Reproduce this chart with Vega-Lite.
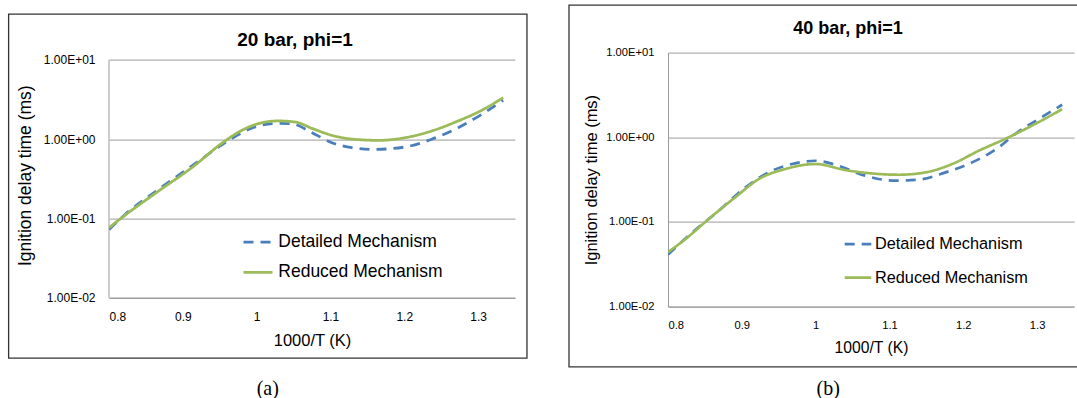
{
  "$schema": "https://vega.github.io/schema/vega-lite/v6.json",
  "background": "white",
  "padding": {"left": 7, "top": 3.6, "right": 0, "bottom": 0},
  "spacing": 40,
  "resolve": {"scale": {"color": "independent", "strokeDash": "independent"}, "legend": {"color": "independent", "strokeDash": "independent"}},
  "config": {
    "view": {"stroke": null},
    "font": "Liberation Sans",
    "axis": {"labelFont": "Liberation Sans", "titleFont": "Liberation Sans", "labelColor": "#000000", "titleColor": "#000000", "titleFontWeight": "normal", "ticks": false, "tickSize": 0},
    "legend": {"labelFont": "Liberation Sans", "labelColor": "#000000", "labelLimit": 400}
  },
  "datasets": {
    "a": [
      {"t": 0.8, "tau": 0.0728, "series": "Detailed Mechanism"},
      {"t": 0.822, "tau": 0.113, "series": "Detailed Mechanism"},
      {"t": 0.867, "tau": 0.233, "series": "Detailed Mechanism"},
      {"t": 0.912, "tau": 0.458, "series": "Detailed Mechanism"},
      {"t": 0.957, "tau": 0.904, "series": "Detailed Mechanism"},
      {"t": 0.98, "tau": 1.21, "series": "Detailed Mechanism"},
      {"t": 1.002, "tau": 1.47, "series": "Detailed Mechanism"},
      {"t": 1.029, "tau": 1.585, "series": "Detailed Mechanism"},
      {"t": 1.047, "tau": 1.57, "series": "Detailed Mechanism"},
      {"t": 1.075, "tau": 1.21, "series": "Detailed Mechanism"},
      {"t": 1.102, "tau": 0.904, "series": "Detailed Mechanism"},
      {"t": 1.129, "tau": 0.782, "series": "Detailed Mechanism"},
      {"t": 1.16, "tau": 0.745, "series": "Detailed Mechanism"},
      {"t": 1.201, "tau": 0.798, "series": "Detailed Mechanism"},
      {"t": 1.237, "tau": 0.998, "series": "Detailed Mechanism"},
      {"t": 1.273, "tau": 1.4, "series": "Detailed Mechanism"},
      {"t": 1.305, "tau": 2.06, "series": "Detailed Mechanism"},
      {"t": 1.334, "tau": 3.1, "series": "Detailed Mechanism"},
      {"t": 0.8, "tau": 0.0764, "series": "Reduced Mechanism"},
      {"t": 0.817, "tau": 0.102, "series": "Reduced Mechanism"},
      {"t": 0.867, "tau": 0.222, "series": "Reduced Mechanism"},
      {"t": 0.912, "tau": 0.437, "series": "Reduced Mechanism"},
      {"t": 0.957, "tau": 0.948, "series": "Reduced Mechanism"},
      {"t": 0.98, "tau": 1.294, "series": "Reduced Mechanism"},
      {"t": 1.002, "tau": 1.57, "series": "Reduced Mechanism"},
      {"t": 1.029, "tau": 1.7, "series": "Reduced Mechanism"},
      {"t": 1.052, "tau": 1.65, "series": "Reduced Mechanism"},
      {"t": 1.075, "tau": 1.37, "series": "Reduced Mechanism"},
      {"t": 1.102, "tau": 1.12, "series": "Reduced Mechanism"},
      {"t": 1.129, "tau": 1.005, "series": "Reduced Mechanism"},
      {"t": 1.165, "tau": 0.968, "series": "Reduced Mechanism"},
      {"t": 1.201, "tau": 1.045, "series": "Reduced Mechanism"},
      {"t": 1.237, "tau": 1.27, "series": "Reduced Mechanism"},
      {"t": 1.273, "tau": 1.7, "series": "Reduced Mechanism"},
      {"t": 1.305, "tau": 2.32, "series": "Reduced Mechanism"},
      {"t": 1.334, "tau": 3.34, "series": "Reduced Mechanism"}
    ],
    "b": [
      {"t": 0.8, "tau": 0.0411, "series": "Detailed Mechanism"},
      {"t": 0.833, "tau": 0.0753, "series": "Detailed Mechanism"},
      {"t": 0.869, "tau": 0.136, "series": "Detailed Mechanism"},
      {"t": 0.905, "tau": 0.256, "series": "Detailed Mechanism"},
      {"t": 0.941, "tau": 0.403, "series": "Detailed Mechanism"},
      {"t": 0.968, "tau": 0.483, "series": "Detailed Mechanism"},
      {"t": 1.0, "tau": 0.528, "series": "Detailed Mechanism"},
      {"t": 1.031, "tau": 0.461, "series": "Detailed Mechanism"},
      {"t": 1.067, "tau": 0.352, "series": "Detailed Mechanism"},
      {"t": 1.108, "tau": 0.307, "series": "Detailed Mechanism"},
      {"t": 1.14, "tau": 0.316, "series": "Detailed Mechanism"},
      {"t": 1.176, "tau": 0.385, "series": "Detailed Mechanism"},
      {"t": 1.212, "tau": 0.505, "series": "Detailed Mechanism"},
      {"t": 1.248, "tau": 0.759, "series": "Detailed Mechanism"},
      {"t": 1.27, "tau": 1.09, "series": "Detailed Mechanism"},
      {"t": 1.302, "tau": 1.64, "series": "Detailed Mechanism"},
      {"t": 1.334, "tau": 2.42, "series": "Detailed Mechanism"},
      {"t": 0.8, "tau": 0.0439, "series": "Reduced Mechanism"},
      {"t": 0.824, "tau": 0.0631, "series": "Reduced Mechanism"},
      {"t": 0.855, "tau": 0.108, "series": "Reduced Mechanism"},
      {"t": 0.891, "tau": 0.195, "series": "Reduced Mechanism"},
      {"t": 0.923, "tau": 0.321, "series": "Reduced Mechanism"},
      {"t": 0.959, "tau": 0.422, "series": "Reduced Mechanism"},
      {"t": 1.0, "tau": 0.483, "series": "Reduced Mechanism"},
      {"t": 1.04, "tau": 0.41, "series": "Reduced Mechanism"},
      {"t": 1.076, "tau": 0.374, "series": "Reduced Mechanism"},
      {"t": 1.113, "tau": 0.361, "series": "Reduced Mechanism"},
      {"t": 1.149, "tau": 0.385, "series": "Reduced Mechanism"},
      {"t": 1.185, "tau": 0.483, "series": "Reduced Mechanism"},
      {"t": 1.221, "tau": 0.693, "series": "Reduced Mechanism"},
      {"t": 1.261, "tau": 0.995, "series": "Reduced Mechanism"},
      {"t": 1.297, "tau": 1.43, "series": "Reduced Mechanism"},
      {"t": 1.334, "tau": 2.15, "series": "Reduced Mechanism"}
    ]
  },
  "hconcat": [
    {
      "title": {"text": "(a)", "orient": "bottom", "anchor": "middle", "frame": "bounds", "font": "Liberation Serif", "fontSize": 20, "fontWeight": "normal", "color": "#000000", "baseline": "alphabetic", "offset": 36},
      "vconcat": [
        {
          "width": 406,
          "height": 245.3,
          "title": {"text": "20 bar, phi=1", "anchor": "middle", "frame": "group", "dx": -17, "font": "Liberation Sans", "fontSize": 19, "fontWeight": "bold", "color": "#000000", "baseline": "alphabetic", "offset": -51.5},
          "layer": [
            {
              "data": {"values": [{}]},
              "mark": {"type": "rect", "fill": "transparent", "stroke": "#333333", "strokeWidth": 1.3, "clip": false},
              "encoding": {
                "x": {"datum": 0.664, "type": "quantitative", "scale": {"domain": [0.8, 1.35], "nice": false, "zero": false}},
                "x2": {"datum": 1.3662},
                "y": {"datum": 37.67, "type": "quantitative", "scale": {"type": "log", "domain": [0.01, 12.36], "nice": false}},
                "y2": {"datum": 0.001738}
              }
            },
            {
              "data": {"values": [{}]},
              "mark": {"type": "rule", "color": "#9a9a9a", "strokeWidth": 1},
              "encoding": {
                "x": {"datum": 0.8, "type": "quantitative", "scale": {"domain": [0.8, 1.35], "nice": false, "zero": false}},
                "y": {"datum": 0.01, "type": "quantitative", "scale": {"type": "log", "domain": [0.01, 12.36], "nice": false}},
                "y2": {"datum": 10}
              }
            },
            {
              "data": {"name": "a"},
              "mark": {"type": "line", "interpolate": "monotone", "strokeWidth": 2.8, "clip": true},
              "encoding": {
                "x": {"field": "t", "type": "quantitative", "scale": {"domain": [0.8, 1.35], "nice": false, "zero": false},
                  "axis": {"title": "1000/T (K)", "values": [0.8, 0.9, 1, 1.1, 1.2, 1.3], "format": "~g", "grid": false, "domain": true, "domainColor": "#9a9a9a", "labelFontSize": 12, "labelPadding": 14, "titleFontSize": 16.5, "titlePadding": 9.5}},
                "y": {"field": "tau", "type": "quantitative", "scale": {"type": "log", "domain": [0.01, 12.36], "nice": false},
                  "axis": {"title": "Ignition delay time (ms)", "values": [0.01, 0.1, 1, 10], "labelExpr": "datum.value >= 5 ? '1.00E+01' : datum.value >= 0.5 ? '1.00E+00' : datum.value >= 0.05 ? '1.00E-01' : '1.00E-02'", "grid": true, "gridColor": "#9a9a9a", "gridWidth": 1, "domain": false, "labelFontSize": 12, "labelPadding": 14, "titleFontSize": 17.5, "titlePadding": 9}},
                "color": {"field": "series", "type": "nominal", "scale": {"domain": ["Detailed Mechanism", "Reduced Mechanism"], "range": ["#4a7ebb", "#9bbb59"]},
                  "legend": {"orient": "none", "legendX": 133, "legendY": 173.6, "title": null, "labelFontSize": 17.5, "symbolSize": 841, "symbolStrokeWidth": 2.8, "labelOffset": 4.3, "rowPadding": 5.2, "symbolType": "stroke"}},
                "strokeDash": {"field": "series", "type": "nominal", "scale": {"domain": ["Detailed Mechanism", "Reduced Mechanism"], "range": [[10, 7], [1, 0]]},
                  "legend": {"orient": "none", "legendX": 133, "legendY": 173.6, "title": null, "labelFontSize": 17.5, "symbolSize": 841, "symbolStrokeWidth": 2.8, "labelOffset": 4.3, "rowPadding": 5.2, "symbolType": "stroke"}}
              }
            }
          ]
        }
      ]
    },
    {
      "title": {"text": "(b)", "orient": "bottom", "anchor": "middle", "frame": "bounds", "font": "Liberation Serif", "fontSize": 20, "fontWeight": "normal", "color": "#000000", "baseline": "alphabetic", "offset": 27.5},
      "vconcat": [
        {
          "width": 406,
          "height": 254,
          "title": {"text": "40 bar, phi=1", "anchor": "middle", "frame": "group", "dx": -23, "font": "Liberation Sans", "fontSize": 18, "fontWeight": "bold", "color": "#000000", "baseline": "alphabetic", "offset": -47.2},
          "layer": [
            {
              "data": {"values": [{}]},
              "mark": {"type": "rect", "fill": "transparent", "stroke": "#333333", "strokeWidth": 1.3, "clip": false},
              "encoding": {
                "x": {"datum": 0.6659, "type": "quantitative", "scale": {"domain": [0.8, 1.35], "nice": false, "zero": false}},
                "x2": {"datum": 1.368},
                "y": {"datum": 36.29, "type": "quantitative", "scale": {"type": "log", "domain": [0.01, 10], "nice": false}},
                "y2": {"datum": 0.00194}
              }
            },
            {
              "data": {"name": "b"},
              "mark": {"type": "line", "interpolate": "monotone", "strokeWidth": 2.7, "clip": true},
              "encoding": {
                "x": {"field": "t", "type": "quantitative", "scale": {"domain": [0.8, 1.35], "nice": false, "zero": false},
                  "axis": {"title": "1000/T (K)", "values": [0.8, 0.9, 1, 1.1, 1.2, 1.3], "format": "~g", "grid": false, "domain": true, "domainColor": "#9a9a9a", "labelFontSize": 11.2, "labelPadding": 12.8, "titleFontSize": 15.7, "titlePadding": 10}},
                "y": {"field": "tau", "type": "quantitative", "scale": {"type": "log", "domain": [0.01, 10], "nice": false},
                  "axis": {"title": "Ignition delay time (ms)", "values": [0.01, 0.1, 1, 10], "labelExpr": "datum.value >= 5 ? '1.00E+01' : datum.value >= 0.5 ? '1.00E+00' : datum.value >= 0.05 ? '1.00E-01' : '1.00E-02'", "grid": true, "gridColor": "#9a9a9a", "gridWidth": 1, "domain": true, "domainColor": "#9a9a9a", "labelFontSize": 11.2, "labelPadding": 14, "titleFontSize": 16.5, "titlePadding": 6}},
                "color": {"field": "series", "type": "nominal", "scale": {"domain": ["Detailed Mechanism", "Reduced Mechanism"], "range": ["#4a7ebb", "#9bbb59"]},
                  "legend": {"orient": "none", "legendX": 175, "legendY": 176.6, "title": null, "labelFontSize": 16.3, "symbolSize": 708, "symbolStrokeWidth": 2.7, "labelOffset": 2, "rowPadding": 9.4, "symbolType": "stroke"}},
                "strokeDash": {"field": "series", "type": "nominal", "scale": {"domain": ["Detailed Mechanism", "Reduced Mechanism"], "range": [[10, 7], [1, 0]]},
                  "legend": {"orient": "none", "legendX": 175, "legendY": 176.6, "title": null, "labelFontSize": 16.3, "symbolSize": 708, "symbolStrokeWidth": 2.7, "labelOffset": 2, "rowPadding": 9.4, "symbolType": "stroke"}}
              }
            }
          ]
        }
      ]
    }
  ]
}
